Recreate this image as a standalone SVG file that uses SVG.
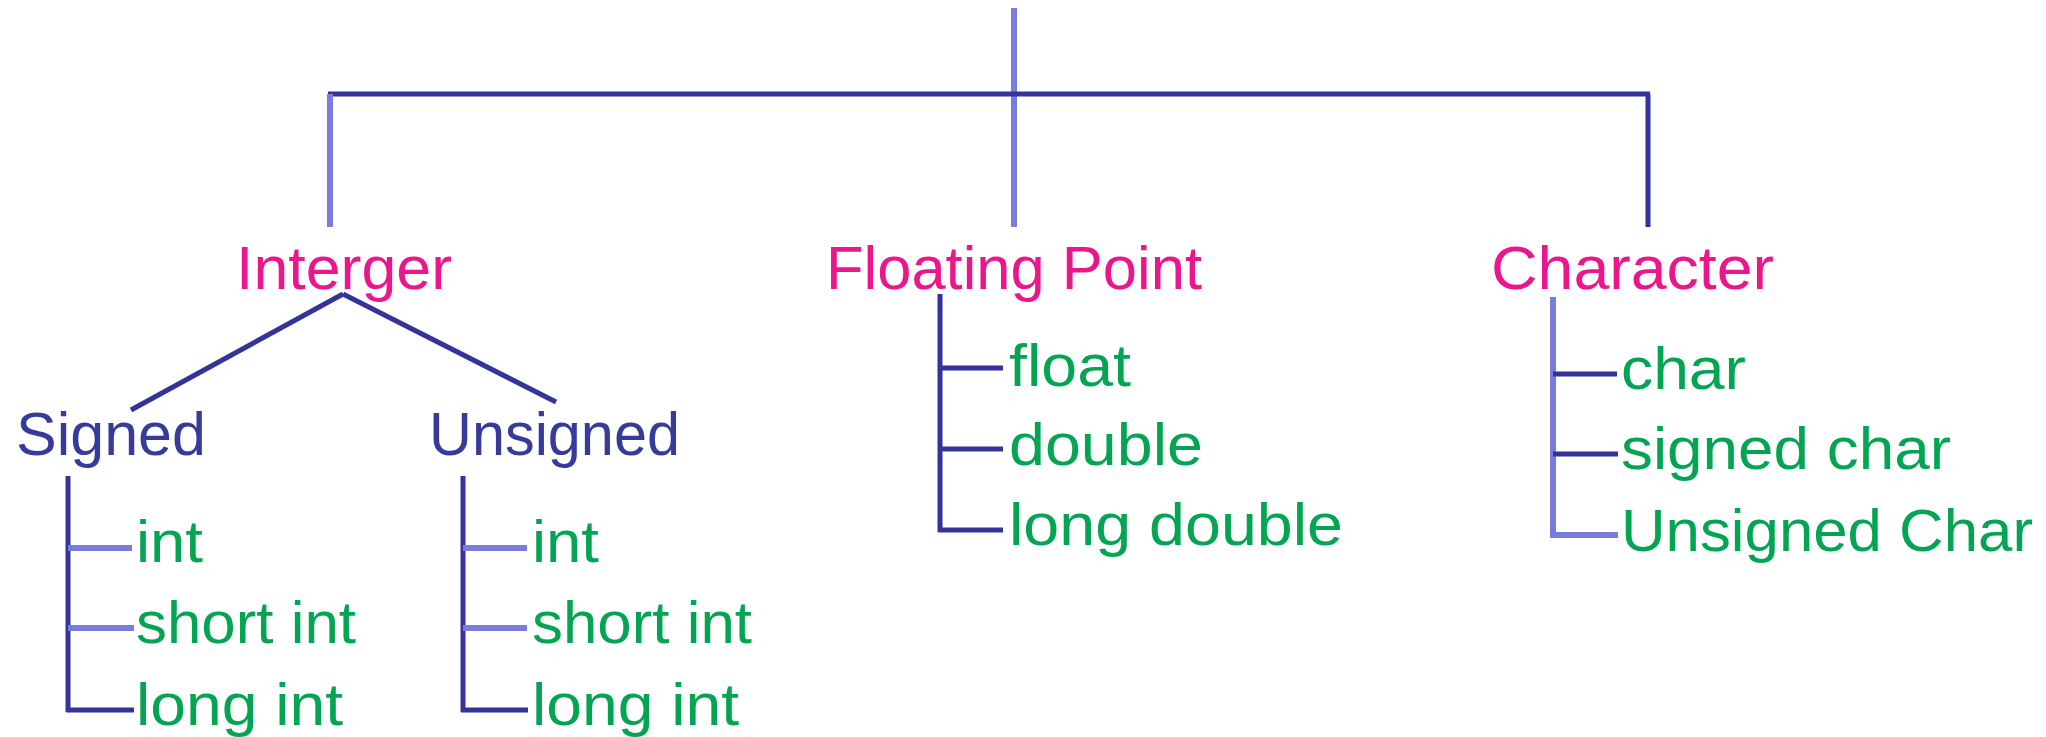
<svg xmlns="http://www.w3.org/2000/svg" width="2046" height="737" viewBox="0 0 2046 737">
<style>
.dk{stroke:#333399;stroke-width:5;fill:none;stroke-linecap:butt}
.lt{stroke:#787ddd;stroke-width:6;fill:none;stroke-linecap:butt}
text{font-family:"Liberation Sans",Arial,sans-serif}
.t1{fill:#ec168c;font-size:62px}
.t2{fill:#363b9a;font-size:62px}
.t3{fill:#03a553;font-size:60px}
</style>
<rect width="2046" height="737" fill="#ffffff"/>
<g id="connectors">
<line class="lt" x1="1014" y1="8" x2="1014" y2="227"/>
<line class="dk" x1="328" y1="94" x2="1650" y2="94"/>
<line class="lt" x1="330" y1="94" x2="330" y2="227"/>
<line class="dk" x1="1648" y1="94" x2="1648" y2="227"/>
<line class="dk" x1="343" y1="294" x2="131" y2="410"/>
<line class="dk" x1="343" y1="294" x2="556" y2="402"/>
<line class="dk" x1="68" y1="476" x2="68" y2="712"/>
<line class="lt" x1="68" y1="548" x2="132" y2="548"/>
<line class="lt" x1="68" y1="628" x2="134" y2="628"/>
<line class="dk" x1="66" y1="710" x2="134" y2="710"/>
<line class="dk" x1="463" y1="476" x2="463" y2="712"/>
<line class="lt" x1="463" y1="548" x2="527" y2="548"/>
<line class="lt" x1="463" y1="628" x2="527" y2="628"/>
<line class="dk" x1="461" y1="710" x2="528" y2="710"/>
<line class="dk" x1="940" y1="294" x2="940" y2="532"/>
<line class="dk" x1="940" y1="368" x2="1003" y2="368"/>
<line class="dk" x1="940" y1="449" x2="1003" y2="449"/>
<line class="dk" x1="938" y1="530" x2="1003" y2="530"/>
<line class="lt" x1="1553" y1="297" x2="1553" y2="538"/>
<line class="dk" x1="1553" y1="374" x2="1617" y2="374"/>
<line class="dk" x1="1553" y1="454" x2="1618" y2="454"/>
<line class="lt" x1="1550" y1="535" x2="1618" y2="535"/>
</g>
<g id="node-interger"><text class="t1" x="236" y="289" textLength="216" lengthAdjust="spacingAndGlyphs">Interger</text></g>
<g id="node-floating-point"><text class="t1" x="826" y="289" textLength="376" lengthAdjust="spacingAndGlyphs">Floating Point</text></g>
<g id="node-character"><text class="t1" x="1491" y="289" textLength="283" lengthAdjust="spacingAndGlyphs">Character</text></g>
<g id="node-signed"><text class="t2" x="16" y="455" textLength="190" lengthAdjust="spacingAndGlyphs">Signed</text></g>
<g id="node-unsigned"><text class="t2" x="429" y="455" textLength="251" lengthAdjust="spacingAndGlyphs">Unsigned</text></g>
<g id="node-signed-int"><text class="t3" x="136" y="562" textLength="67" lengthAdjust="spacingAndGlyphs">int</text></g>
<g id="node-signed-short-int"><text class="t3" x="136" y="643" textLength="220" lengthAdjust="spacingAndGlyphs">short int</text></g>
<g id="node-signed-long-int"><text class="t3" x="136" y="725" textLength="207" lengthAdjust="spacingAndGlyphs">long int</text></g>
<g id="node-unsigned-int"><text class="t3" x="532" y="562" textLength="67" lengthAdjust="spacingAndGlyphs">int</text></g>
<g id="node-unsigned-short-int"><text class="t3" x="532" y="643" textLength="220" lengthAdjust="spacingAndGlyphs">short int</text></g>
<g id="node-unsigned-long-int"><text class="t3" x="532" y="725" textLength="207" lengthAdjust="spacingAndGlyphs">long int</text></g>
<g id="node-float"><text class="t3" x="1009" y="386" textLength="122" lengthAdjust="spacingAndGlyphs">float</text></g>
<g id="node-double"><text class="t3" x="1009" y="465" textLength="194" lengthAdjust="spacingAndGlyphs">double</text></g>
<g id="node-long-double"><text class="t3" x="1009" y="545" textLength="334" lengthAdjust="spacingAndGlyphs">long double</text></g>
<g id="node-char"><text class="t3" x="1621" y="389" textLength="125" lengthAdjust="spacingAndGlyphs">char</text></g>
<g id="node-signed-char"><text class="t3" x="1621" y="469" textLength="330" lengthAdjust="spacingAndGlyphs">signed char</text></g>
<g id="node-unsigned-char"><text class="t3" x="1621" y="551" textLength="412" lengthAdjust="spacingAndGlyphs">Unsigned Char</text></g>
</svg>
